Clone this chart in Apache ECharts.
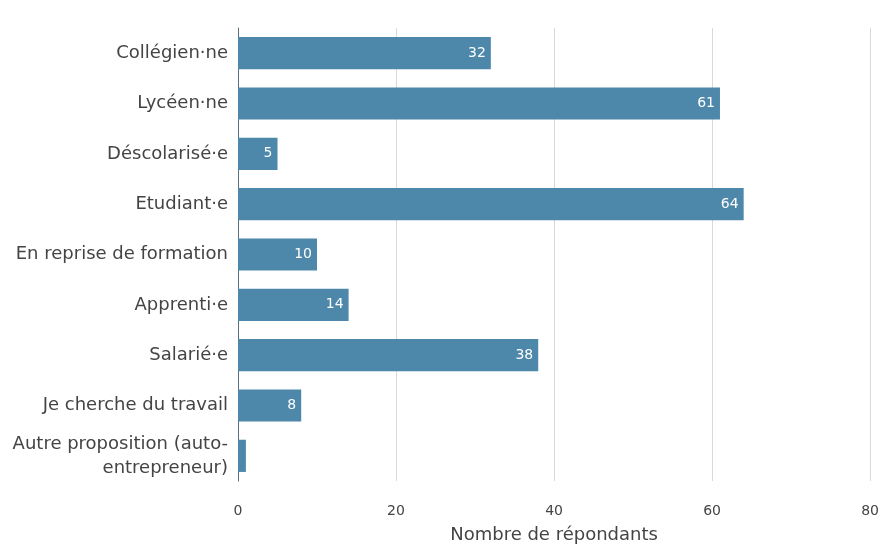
<!DOCTYPE html>
<html>
<head>
<meta charset="utf-8">
<script src="https://cdn.jsdelivr.net/npm/echarts@6/dist/echarts.min.js"></script>
<style>
  html, body { margin: 0; padding: 0; background: #ffffff; }
  #chart { width: 882px; height: 549px; }
</style>
</head>
<body>
<div id="chart"></div>
<script>
// Statut des répondants
const categories = [
  'Collégien·ne',
  'Lycéen·ne',
  'Déscolarisé·e',
  'Etudiant·e',
  'En reprise de formation',
  'Apprenti·e',
  'Salarié·e',
  'Je cherche du travail',
  'Autre proposition (auto-\nentrepreneur)'
];
const counts = [32, 61, 5, 64, 10, 14, 38, 8, 1];
const axisTicks = [0, 20, 40, 60, 80];
const axisTitle = 'Nombre de répondants';

const chart = echarts.init(document.getElementById('chart'), null, { renderer: 'canvas' });
chart.setOption({
  animation: false,
  textStyle: { fontFamily: 'DejaVu Sans, sans-serif' },
  grid: { left: 238, right: 11, top: 28, bottom: 48, containLabel: false },
  xAxis: {
    type: 'value',
    min: axisTicks[0],
    max: axisTicks[axisTicks.length - 1],
    interval: axisTicks[1] - axisTicks[0],
    name: axisTitle,
    nameLocation: 'middle',
    nameGap: 45,
    nameTextStyle: { color: '#444444', fontSize: 18 },
    axisLine: { show: false },
    axisTick: { show: false },
    axisLabel: { color: '#444444', fontSize: 14, margin: 23 },
    splitLine: { show: true, lineStyle: { color: '#d9d9d9', width: 1 } }
  },
  yAxis: {
    type: 'category',
    inverse: true,
    data: categories,
    axisLine: { show: true, lineStyle: { color: '#5a6f7c', width: 1 } },
    axisTick: { show: false },
    axisLabel: { color: '#444444', fontSize: 18, margin: 10, align: 'right', lineHeight: 24 },
    splitLine: { show: false }
  },
  series: [{
    type: 'bar',
    data: counts,
    barCategoryGap: '36%',
    itemStyle: { color: '#4d88ab' },
    label: {
      show: true,
      position: 'insideRight',
      color: '#ffffff',
      fontSize: 14,
      distance: 5,
      // bars too short to hold their number stay unlabelled
      formatter: (p) => (p.value >= 3 ? String(p.value) : '')
    }
  }]
});
</script>
</body>
</html>
